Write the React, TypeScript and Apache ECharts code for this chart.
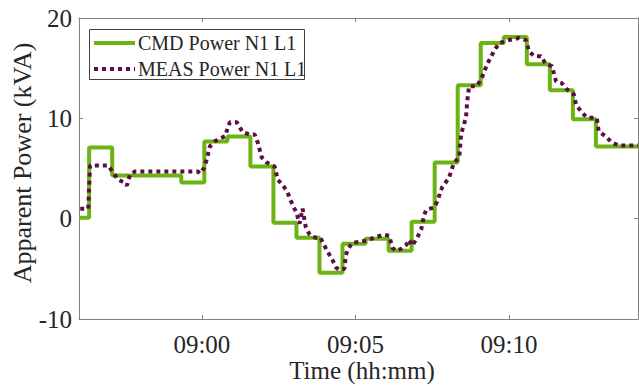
import React, { useEffect, useRef } from "react";
import * as echarts from "echarts";

// Time in minutes relative to 09:00
const cmdTime = [-4.0, -3.67, -2.92, -0.67, 0.08, 0.83, 1.58, 2.33, 3.08, 3.83, 4.58, 5.33, 6.08, 6.83, 7.58, 8.33, 9.08, 9.83, 10.58, 11.33, 12.08, 12.83, 14.2];
const cmdPower = [0.1, 7.1, 4.3, 3.6, 7.7, 8.2, 5.2, -0.4, -1.9, -5.4, -2.5, -2.0, -3.2, -0.3, 5.6, 13.3, 17.5, 18.1, 15.4, 12.8, 9.9, 7.2, 7.2];

const measTime = [-3.96, -3.7, -3.64, -3.05, -2.89, -2.73, -2.53, -2.44, -2.34, -2.18, -0.13, -0.06, 0.06, 0.16, 0.26, 0.42, 0.58, 0.75, 0.84, 0.91, 1.14, 1.33, 1.56, 1.72, 1.82, 1.95, 2.11, 2.37, 2.47, 2.69, 2.79, 2.95, 3.08, 3.18, 3.28, 3.38, 3.51, 3.7, 3.86, 4.06, 4.25, 4.38, 4.48, 4.64, 4.68, 4.74, 4.9, 5.19, 5.45, 5.68, 5.94, 6.1, 6.2, 6.33, 6.49, 6.66, 6.75, 6.85, 7.01, 7.14, 7.24, 7.31, 7.56, 7.66, 7.82, 8.05, 8.21, 8.38, 8.44, 8.6, 8.64, 8.7, 8.96, 9.12, 9.29, 9.51, 9.68, 10.0, 10.32, 10.55, 10.65, 10.81, 11.04, 11.2, 11.4, 11.53, 11.72, 11.88, 12.11, 12.18, 12.34, 12.53, 12.86, 12.92, 13.15, 13.34, 13.57, 14.2];
const measPower = [1.0, 1.0, 5.3, 5.3, 4.6, 3.9, 3.6, 3.3, 4.4, 4.7, 4.7, 4.5, 5.0, 5.9, 7.2, 7.7, 8.0, 8.2, 9.0, 9.6, 9.6, 8.6, 8.4, 8.4, 7.6, 6.1, 5.6, 5.2, 3.9, 3.1, 2.6, 1.4, 0.6, -0.5, 1.0, -0.8, -1.6, -1.9, -1.9, -3.1, -4.1, -4.9, -5.1, -5.0, -3.8, -3.1, -2.4, -2.3, -2.1, -1.8, -1.6, -1.7, -2.9, -3.2, -3.0, -2.6, -2.1, -2.7, -1.9, -1.1, 0.4, 0.9, 1.1, 1.7, 3.1, 4.1, 5.6, 6.1, 8.4, 10.1, 11.7, 13.2, 13.2, 14.1, 15.4, 16.7, 17.5, 17.8, 18.0, 17.8, 16.7, 16.2, 16.2, 15.4, 15.2, 13.7, 13.5, 12.9, 12.4, 11.4, 10.7, 10.1, 10.0, 8.7, 8.2, 7.6, 7.3, 7.3];

const xTickValues = [0, 5, 10];
const seriesNames = ["CMD Power N1 L1", "MEAS Power N1 L1"];
const xTitle = "Time (hh:mm)";
const yTitle = "Apparent Power (kVA)";

const GREEN = "#6cb314";
const PURPLE = "#5c0f46";
const TEXT = "#262626";
const AXIS = "#808080";
const FONT = "'Liberation Serif', 'Times New Roman', serif";

export default function App() {
  const ref = useRef<HTMLDivElement>(null);
  useEffect(() => {
    if (!ref.current) return;
    const chart = echarts.init(ref.current, null, { renderer: "svg" });
    const fmtTime = (v: number) => {
      const m = 0 + v;
      return "09:" + (m < 10 ? "0" : "") + m;
    };
    const xBase = { type: "value", min: -4, max: 14.2 };
    const yBase = { type: "value", min: -10, max: 20, interval: 10 };
    chart.setOption({
      animation: false,
      backgroundColor: "#ffffff",
      grid: { left: 79, top: 18, right: 1, bottom: 67, containLabel: false, outerBoundsMode: "none" },
      xAxis: [
        {
          ...xBase,
          axisLine: { show: true, onZero: false, lineStyle: { color: AXIS, width: 1 } },
          axisTick: { show: true, inside: true, length: 4, customValues: xTickValues, lineStyle: { color: AXIS } },
          axisLabel: { customValues: xTickValues, formatter: fmtTime, fontFamily: FONT, fontSize: 25, color: TEXT, margin: 13 },
          splitLine: { show: false },
        },
        {
          ...xBase,
          position: "top",
          axisLine: { show: true, onZero: false, lineStyle: { color: AXIS, width: 1 } },
          axisTick: { show: true, inside: true, length: 4, customValues: xTickValues, lineStyle: { color: AXIS } },
          axisLabel: { show: false },
          splitLine: { show: false },
        },
      ],
      yAxis: [
        {
          ...yBase,
          axisLine: { show: true, onZero: false, lineStyle: { color: AXIS, width: 1 } },
          axisTick: { show: true, inside: true, length: 4, lineStyle: { color: AXIS } },
          axisLabel: { fontFamily: FONT, fontSize: 25, color: TEXT, margin: 7 },
          splitLine: { show: false },
        },
        {
          ...yBase,
          position: "right",
          axisLine: { show: true, onZero: false, lineStyle: { color: AXIS, width: 1 } },
          axisTick: { show: true, inside: true, length: 4, lineStyle: { color: AXIS } },
          axisLabel: { show: false },
          splitLine: { show: false },
        },
      ],
      series: [
        {
          name: seriesNames[0],
          type: "line",
          step: "end",
          data: cmdTime.map((t, i) => [t, cmdPower[i]]),
          showSymbol: false,
          symbol: "none",
          lineStyle: { color: GREEN, width: 4 },
          z: 2,
        },
        {
          name: seriesNames[1],
          type: "line",
          data: measTime.map((t, i) => [t, measPower[i]]),
          showSymbol: false,
          symbol: "none",
          lineStyle: { color: PURPLE, width: 4, type: [4, 4], cap: "butt" },
          z: 3,
        },
      ],
      graphic: [
        {
          type: "text",
          x: 22,
          y: 163,
          rotation: Math.PI / 2,
          style: { text: yTitle, font: `26px ${FONT}`, fill: TEXT, align: "center", verticalAlign: "middle" },
          z: 11,
        },
        {
          type: "text",
          x: 362,
          y: 370,
          style: { text: xTitle, font: `25px ${FONT}`, fill: TEXT, align: "center", verticalAlign: "middle" },
          z: 11,
        },
        {
          type: "rect",
          shape: { x: 89.5, y: 29.5, width: 215, height: 50 },
          style: { fill: "#ffffff", stroke: "#404040", lineWidth: 1 },
          z: 10,
        },
        {
          type: "line",
          shape: { x1: 94, y1: 43, x2: 135, y2: 43 },
          style: { stroke: GREEN, lineWidth: 4 },
          z: 11,
        },
        {
          type: "line",
          shape: { x1: 94, y1: 69, x2: 135, y2: 69 },
          style: { stroke: PURPLE, lineWidth: 4, lineDash: [4, 4] },
          z: 11,
        },
        {
          type: "text",
          x: 138,
          y: 43,
          style: { text: seriesNames[0], font: `20px ${FONT}`, fill: TEXT, verticalAlign: "middle" },
          z: 11,
        },
        {
          type: "text",
          x: 138,
          y: 69,
          style: { text: seriesNames[1], font: `20px ${FONT}`, fill: TEXT, verticalAlign: "middle" },
          z: 11,
        },
      ],
    });
    return () => chart.dispose();
  }, []);
  return <div ref={ref} style={{ position: "fixed", left: 0, top: 0, width: 639, height: 386 }} />;
}
